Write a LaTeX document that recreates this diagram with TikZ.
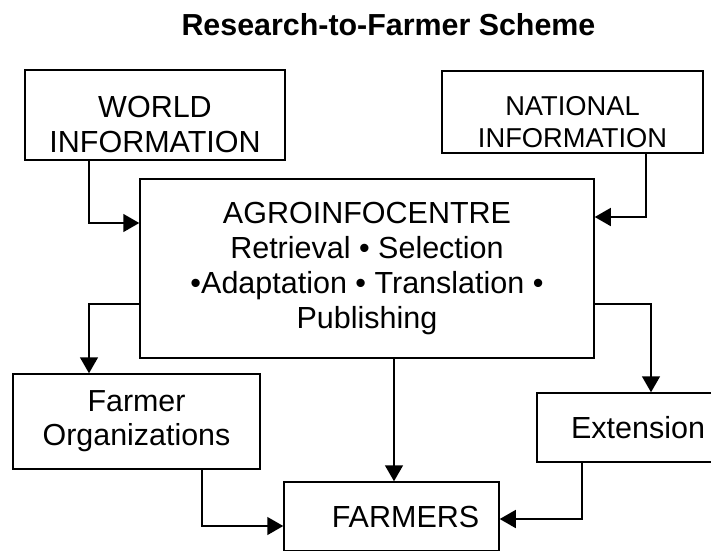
\documentclass[tikz,border=0pt]{standalone}
\usepackage{fontspec}
\setmainfont{Liberation Sans}
\usetikzlibrary{arrows.meta,positioning,calc}

\begin{document}
\begin{tikzpicture}[x=1pt,y=-1pt,line width=1.5pt,
  box/.style={draw,align=center,inner sep=0pt,font=\fontsize{30.5}{35}\selectfont},
  arr/.style={-{Triangle[length=16pt,width=18pt]}}]
  \useasboundingbox (0,0) rectangle (711,550);
  \node[anchor=base,font=\bfseries\fontsize{30.4}{34}\selectfont] (title) at (388.5,35) {Research-to-Farmer Scheme};
  \node[box,minimum width=260pt,minimum height=90pt]  (world)    at (155,115)   {\rule{0pt}{41pt}WORLD\\INFORMATION};
  \node[box,minimum width=261pt,minimum height=82pt,font=\fontsize{27.3}{32}\selectfont] (national) at (572.5,112) {\rule{0pt}{39pt}NATIONAL\\INFORMATION};
  \node[box,minimum width=454pt,minimum height=179pt] (agro)     at (367,268.5) {AGROINFOCENTRE\\Retrieval \textbullet{} Selection\\\textbullet Adaptation \textbullet{} Translation \textbullet\\Publishing};
  \node[box,minimum width=247pt,minimum height=95pt,font=\fontsize{30.4}{34}\selectfont] (forg) at (136.5,421.5) {Farmer\\Organizations};
  \node[box,minimum width=202pt,minimum height=69pt]  (ext)      at (638,427.5) {Extension};
  \node[box,minimum width=215pt,minimum height=69pt]  (farmers)  at (391.5,516.5) {\hspace*{28pt}FARMERS};
  % information into the centre
  \draw[arr] ([xshift=-66pt]world.south) |- ([yshift=45.5pt]agro.west);
  \draw[arr] ([xshift=73.5pt]national.south) |- ([yshift=51.5pt]agro.east);
  % centre out to the channels
  \draw[arr] ([yshift=-35.5pt]agro.west) -| ([xshift=-47.5pt]forg.north);
  \draw[arr] ([yshift=-35.5pt]agro.east) -| ([xshift=13pt]ext.north);
  \draw[arr] ([xshift=27pt]agro.south) -- ([xshift=27pt]agro.south |- farmers.north);
  % channels down to the farmers
  \draw[arr] ([xshift=65.5pt]forg.south) |- ([yshift=-9.5pt]farmers.west);
  \draw[arr] ([xshift=-56pt]ext.south) |- ([yshift=-2.5pt]farmers.east);
\end{tikzpicture}
\end{document}
